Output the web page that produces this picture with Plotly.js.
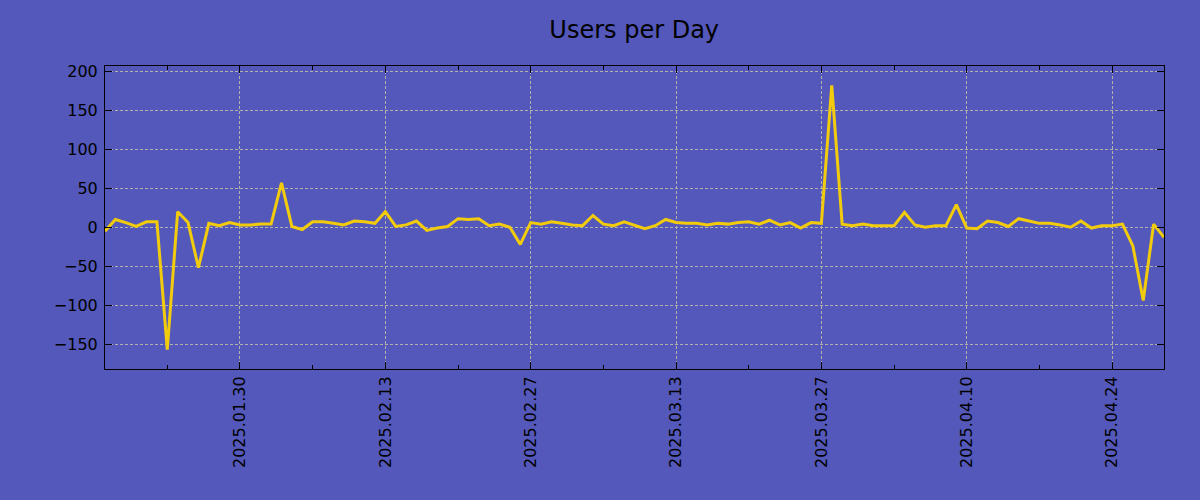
<!DOCTYPE html>
<html>
<head>
<meta charset="utf-8">
<script src="https://cdn.plot.ly/plotly-3.0.1.min.js"></script>
<style>html,body{margin:0;padding:0;background:#5358BA;}#chart{width:1200px;height:500px;}</style>
</head>
<body>
<div id="chart"></div>
<script>
const startDate = '2025-01-17';
const usersPerDay = [
  -5, 10, 6, 1, 7, 7, -157, 20, 6, -52,
  5, 2, 6, 3, 3, 4, 4, 57, 1, -3,
  7, 7, 5, 3, 8, 7, 5, 20, 1, 3,
  8, -4, -1, 1, 11, 10, 11, 2, 4, 0,
  -22, 6, 4, 7, 5, 3, 2, 15, 4, 2,
  7, 3, -2, 2, 10, 6, 5, 5, 3, 5,
  4, 6, 7, 4, 9, 3, 6, -1, 6, 5,
  182, 4, 2, 4, 2, 2, 2, 19, 3, 0,
  2, 2, 29, -1, -2, 8, 6, 1, 11, 8,
  5, 5, 3, 0, 8, -1, 2, 2, 4, -24,
  -94, 4, -13
];
const titleText = 'Users per Day';

// build the date categories, one per value
const dates = [];
const d0 = new Date(startDate + 'T00:00:00Z');
for (let i = 0; i < usersPerDay.length; i++) {
  const d = new Date(d0.getTime() + i * 86400000);
  dates.push(d.toISOString().slice(0, 10));
}

const bg = '#5358BA';
const gridColor = 'rgb(178,178,170)';
const font = {family: 'DejaVu Sans, sans-serif', size: 16, color: '#000'};

Plotly.newPlot('chart', [{
  x: dates,
  y: usersPerDay,
  type: 'scatter',
  mode: 'lines',
  line: {color: '#F2CC0C', width: 3},
  hoverinfo: 'x+y'
}], {
  width: 1200,
  height: 500,
  paper_bgcolor: bg,
  plot_bgcolor: bg,
  font: font,
  showlegend: false,
  margin: {l: 105, r: 36, t: 66, b: 131},
  title: {text: titleText, x: 0.5285, xanchor: 'center', y: 0.94, yanchor: 'middle',
          font: {family: 'DejaVu Sans, sans-serif', size: 24, color: '#000'}},
  xaxis: {
    type: 'date',
    tick0: '2025-01-30',
    dtick: 14 * 86400000,
    tickformat: '%Y.%m.%d',
    tickangle: -90,
    ticks: 'inside',
    ticklen: 7,
    tickwidth: 1,
    tickcolor: '#000',
    showline: true,
    linecolor: '#000',
    linewidth: 1,
    mirror: 'ticks',
    showgrid: true,
    gridcolor: gridColor,
    griddash: '3px,2px',
    gridwidth: 1,
    zeroline: false,
    minor: {dtick: 7 * 86400000, tick0: '2025-01-23', ticks: 'inside', ticklen: 4, tickcolor: '#000', showgrid: false},
    tickfont: font
  },
  yaxis: {
    range: [-182, 207],
    tick0: 0,
    dtick: 50,
    ticks: 'inside',
    ticklen: 7,
    tickwidth: 1,
    tickcolor: '#000',
    showline: true,
    linecolor: '#000',
    linewidth: 1,
    mirror: 'ticks',
    showgrid: true,
    gridcolor: gridColor,
    griddash: '3px,2px',
    gridwidth: 1,
    zeroline: false,
    ticklabelstandoff: 3,
    tickfont: font
  }
}, {displayModeBar: false, staticPlot: true});
</script>
</body>
</html>
